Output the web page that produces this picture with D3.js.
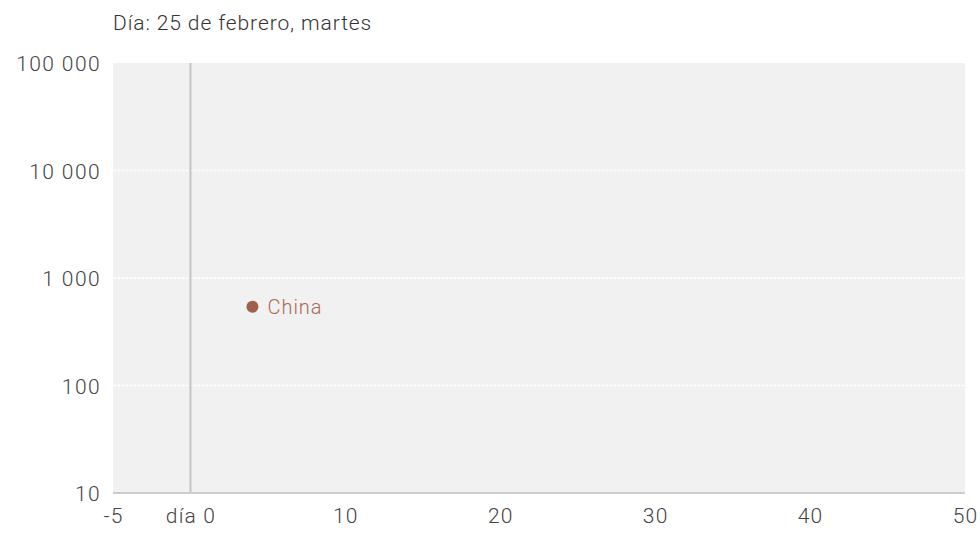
<!DOCTYPE html>
<html><head><meta charset="utf-8">
<script src="https://cdn.jsdelivr.net/npm/d3@7"></script>
<style>
body{margin:0;background:#fff;}
text{font-family:"Roboto",sans-serif;font-weight:300;}
</style></head>
<body><svg id="c" width="980" height="541"></svg>
<script>
const title = "Día: 25 de febrero, martes";
const countries = ["China"];
const days = [4];
const cases = [540];
const xTicks = [-5, 0, 10, 20, 30, 40, 50];
const xTickLabels = ["-5", "día 0", "10", "20", "30", "40", "50"];
const yTicks = [10, 100, 1000, 10000, 100000];
const yTickLabels = ["10", "100", "1 000", "10 000", "100 000"];

const FONT = "Roboto, sans-serif";
const svg = d3.select("#c");
const m = {l:113, r:15, t:63, b:48};
const W = 980, H = 541;
const x = d3.scaleLinear().domain([-5, 50]).range([m.l, W - m.r]);
const y = d3.scaleLog().domain([10, 100000]).range([H - m.b, m.t]);

svg.append("text").attr("x", 113).attr("y", 30).attr("font-size", 21)
  .attr("letter-spacing", 0.9).attr("fill", "#333").text(title);

svg.append("rect").attr("x", x(-5)).attr("y", y(100000)).attr("width", x(50) - x(-5)).attr("height", y(10) - y(100000)).attr("fill", "#f1f1f1");

svg.append("g").selectAll("line").data(yTicks.slice(1, -1)).join("line")
  .attr("x1", x(-5)).attr("x2", x(50)).attr("y1", d => y(d)).attr("y2", d => y(d))
  .attr("stroke", "#fff").attr("stroke-width", 1.5).attr("stroke-dasharray", "3,1");

svg.append("line").attr("x1", x(0)).attr("x2", x(0)).attr("y1", y(100000)).attr("y2", y(10))
  .attr("stroke", "#c4c4c4").attr("stroke-width", 2);

svg.append("line").attr("x1", x(-5)).attr("x2", x(50)).attr("y1", y(10)).attr("y2", y(10))
  .attr("stroke", "#cccccc").attr("stroke-width", 2);

const ya = svg.append("g").attr("transform", `translate(${m.l - 12},0)`)
  .call(d3.axisLeft(y).tickValues(yTicks).tickFormat((d, i) => yTickLabels[i]).tickSize(0).tickPadding(0));
ya.select(".domain").remove();
ya.selectAll("text").attr("font-size", 21).attr("letter-spacing", 1.4).attr("fill", "#444").attr("font-family", FONT).attr("dy", "0.36em");

const xa = svg.append("g").attr("transform", `translate(0,${H - m.b})`)
  .call(d3.axisBottom(x).tickValues(xTicks).tickFormat((d, i) => xTickLabels[i]).tickSize(0).tickPadding(15));
xa.select(".domain").remove();
xa.selectAll("text").attr("font-size", 21).attr("letter-spacing", 1.2).attr("fill", "#444").attr("font-family", FONT);

const pts = countries.map((c, i) => ({c, d: days[i], v: cases[i]}));
svg.append("g").selectAll("circle").data(pts).join("circle")
  .attr("cx", d => x(d.d)).attr("cy", d => y(d.v)).attr("r", 6).attr("fill", "#a0614a");
svg.append("g").selectAll("text").data(pts).join("text")
  .attr("x", d => x(d.d) + 15).attr("y", d => y(d.v)).attr("dy", "0.35em")
  .attr("font-size", 20).attr("letter-spacing", 1).attr("fill", "#a86a55").text(d => d.c);
</script></body></html>
